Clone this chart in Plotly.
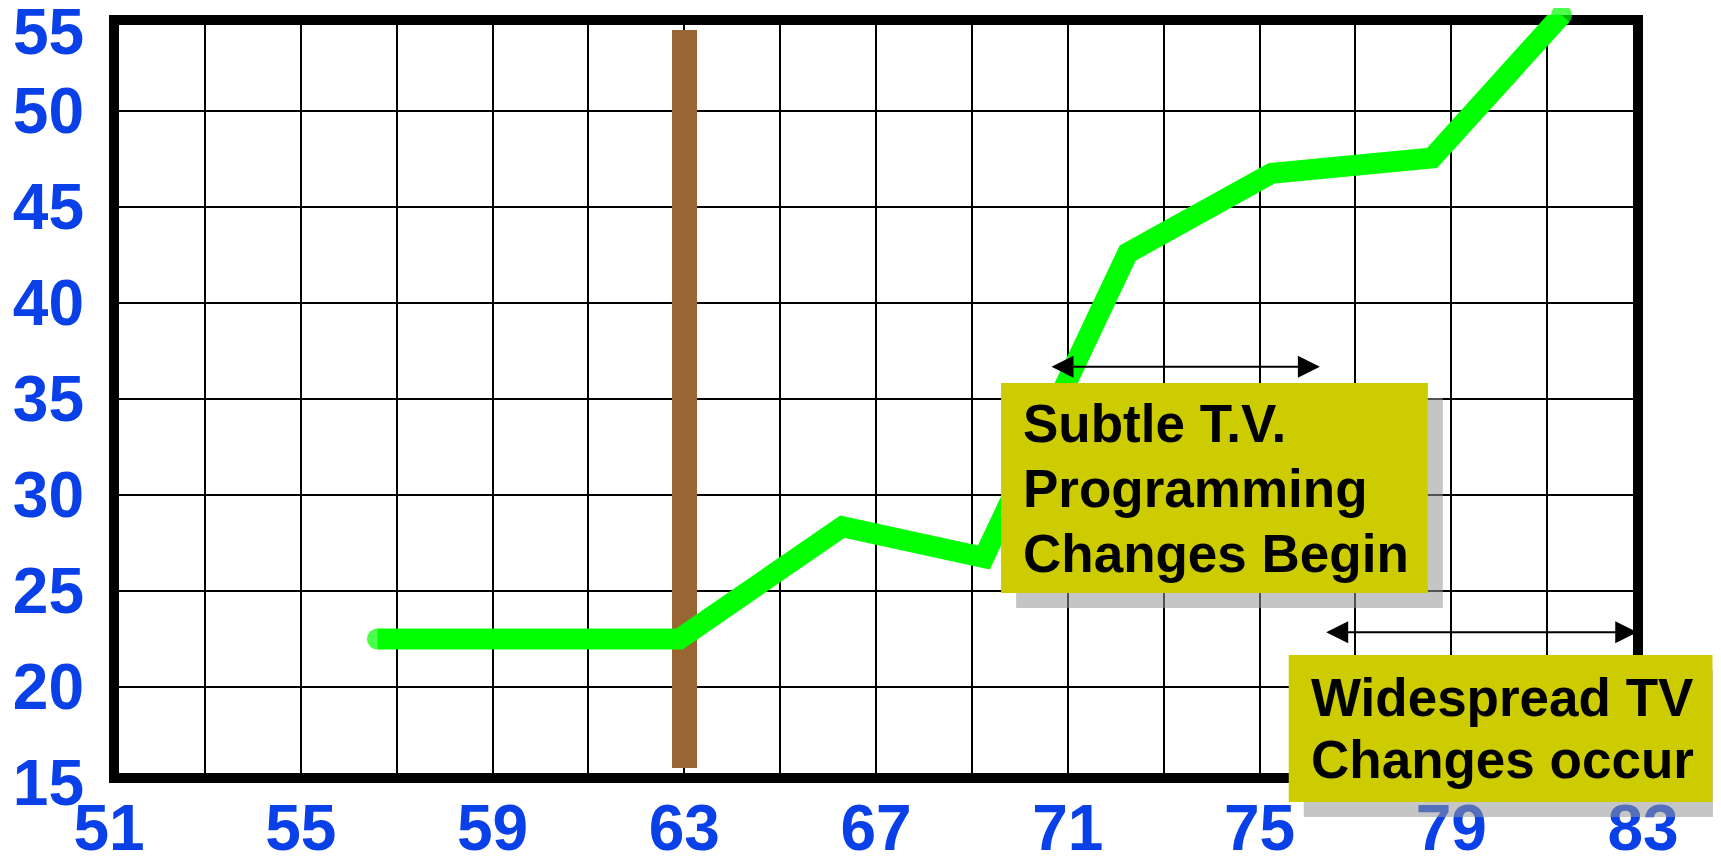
import plotly.graph_objects as go

# ---------------- data ----------------
years = [56.6, 62.9, 66.3, 69.25, 72.25, 75.25, 78.6, 81.3]
values = [22.5, 22.5, 28.35, 26.75, 42.6, 46.75, 47.55, 55.0]

marker_year = [63.0]
marker_bottom = [15.8]
marker_top = [54.2]

x_tick_vals = [51, 55, 59, 63, 67, 71, 75, 79, 83]
x_tick_text = [str(v) for v in x_tick_vals]
y_tick_vals = [15, 20, 25, 30, 35, 40, 45, 50, 55]
y_tick_text = [str(v) for v in y_tick_vals]

box1_lines = ["Subtle T.V.", "Programming", "Changes Begin"]
box2_lines = ["Widespread TV", "Changes occur"]
box1_anchor = (69.61, 35.83)
box2_anchor = (75.61, 21.67)
arrow1_span = (70.63, 76.26, 36.68)
arrow2_span = (76.36, 82.88, 22.85)

# ---------------- layout geometry ----------------
OFF = 8                      # default page margin around the figure
W, H = 1721 - OFF, 857 - OFF
L, R, T, B = 100.5, 77.5, 7, 74
PW = W - L - R
PH = H - T - B
X0, X1 = 51, 83
Y0, Y1 = 15, 55
PX_PER_Y = PH / (Y1 - Y0)
PX_PER_X = PW / (X1 - X0)

BLUE = "#0A40E8"
YELLOW = "#CCCC00"
FONT = "Liberation Sans, Arial, sans-serif"
TICK_SIZE = 64
BOX_FONT = 53


def px_x(x):            # page pixel of a data x
    return OFF + L + (x - X0) * PX_PER_X


def px_y(y):            # page pixel of a data y
    return OFF + T + (Y1 - y) * PX_PER_Y


def paper_x(px):
    return (px - OFF - L) / PW


def paper_y(py):
    return (OFF + T + PH - py) / PH


fig = go.Figure()

# brown marker bar
fig.add_trace(go.Bar(
    x=marker_year,
    y=[marker_top[0] - marker_bottom[0]],
    base=marker_bottom,
    width=25 / PX_PER_X,
    marker=dict(color="#996633", line=dict(width=0)),
    hoverinfo="skip",
    showlegend=False,
))

# green line
fig.add_trace(go.Scatter(
    x=years, y=values, mode="lines+markers",
    line=dict(color="#00FF00", width=21),
    marker=dict(color="#00FF00", size=[21] + [0] * (len(years) - 2) + [21], line=dict(width=0)),
    cliponaxis=False,
    showlegend=False,
))

# frame (drawn inside the plotting rectangle)
bw = 10
fig.add_shape(type="rect", xref="paper", yref="paper", layer="between",
              x0=paper_x(px_x(X0) + bw / 2), x1=paper_x(px_x(X1) - bw / 2),
              y0=paper_y(px_y(Y0) - bw / 2), y1=paper_y(px_y(Y1) + bw / 2),
              line=dict(color="black", width=bw), fillcolor="rgba(0,0,0,0)")

# callout boxes with shadows
boxes = [
    (box1_lines, box1_anchor, 427, 210, 65),
    (box2_lines, box2_anchor, 424, 147, 61.5),
]
pad = 21
for lines, (bx, by), bwid, bhgt, pitch in boxes:
    x_px = px_x(bx)
    y_px = px_y(by)
    fig.add_shape(type="rect", xref="paper", yref="paper", layer="above",
                  x0=paper_x(x_px + 15), x1=paper_x(x_px + 15 + bwid),
                  y0=paper_y(y_px + 15 + bhgt), y1=paper_y(y_px + 15),
                  line=dict(width=0), fillcolor="rgba(150,150,150,0.55)")
    fig.add_shape(type="rect", xref="paper", yref="paper", layer="above",
                  x0=paper_x(x_px), x1=paper_x(x_px + bwid),
                  y0=paper_y(y_px + bhgt), y1=paper_y(y_px),
                  line=dict(width=0), fillcolor=YELLOW)
    n = len(lines)
    mid = y_px + bhgt / 2
    for i, t in enumerate(lines):
        cy = mid + (i - (n - 1) / 2) * pitch
        fig.add_annotation(x=paper_x(x_px + pad), y=paper_y(cy), xref="paper", yref="paper",
                           xanchor="left", yanchor="middle", text=t, showarrow=False,
                           align="left", borderpad=0,
                           font=dict(family=FONT, size=BOX_FONT, color="black", weight="bold"))

# double-headed arrows
for xa, xb, ya in [arrow1_span, arrow2_span]:
    fig.add_annotation(x=xb, y=ya, ax=xa, ay=ya, xref="x", yref="y", axref="x", ayref="y",
                       text="", showarrow=True, arrowhead=2, arrowside="end+start",
                       arrowsize=2.2, arrowwidth=2, arrowcolor="black")

# top y label (kept inside the page)
fig.add_annotation(x=0, xref="paper", y=y_tick_vals[-1], yref="y", xanchor="right",
                   xshift=-24.5, yshift=-17, text=y_tick_text[-1], showarrow=False,
                   borderpad=0,
                   font=dict(family=FONT, size=TICK_SIZE, color=BLUE, weight="bold"))

fig.update_layout(
    width=W, height=H,
    margin=dict(l=L, r=R, t=T, b=B, pad=0),
    plot_bgcolor="white", paper_bgcolor="white",
    showlegend=False,
    bargap=0,
)
fig.update_xaxes(
    range=[X0, X1], tickvals=x_tick_vals, ticktext=x_tick_text,
    showgrid=True, gridcolor="black", gridwidth=2,
    minor=dict(tick0=51, dtick=2, showgrid=True, gridcolor="black", gridwidth=2),
    zeroline=False, showline=False, ticks="", automargin=False,
    ticklabelstandoff=2,
    tickfont=dict(family=FONT, size=TICK_SIZE, color=BLUE, weight="bold"),
)
fig.update_yaxes(
    range=[Y0, Y1], tickvals=y_tick_vals[:-1], ticktext=y_tick_text[:-1],
    showgrid=True, gridcolor="black", gridwidth=2,
    zeroline=False, showline=False, ticks="", automargin=False,
    ticklabelstandoff=24,
    tickfont=dict(family=FONT, size=TICK_SIZE, color=BLUE, weight="bold"),
)

fig.write_html("out.html")
